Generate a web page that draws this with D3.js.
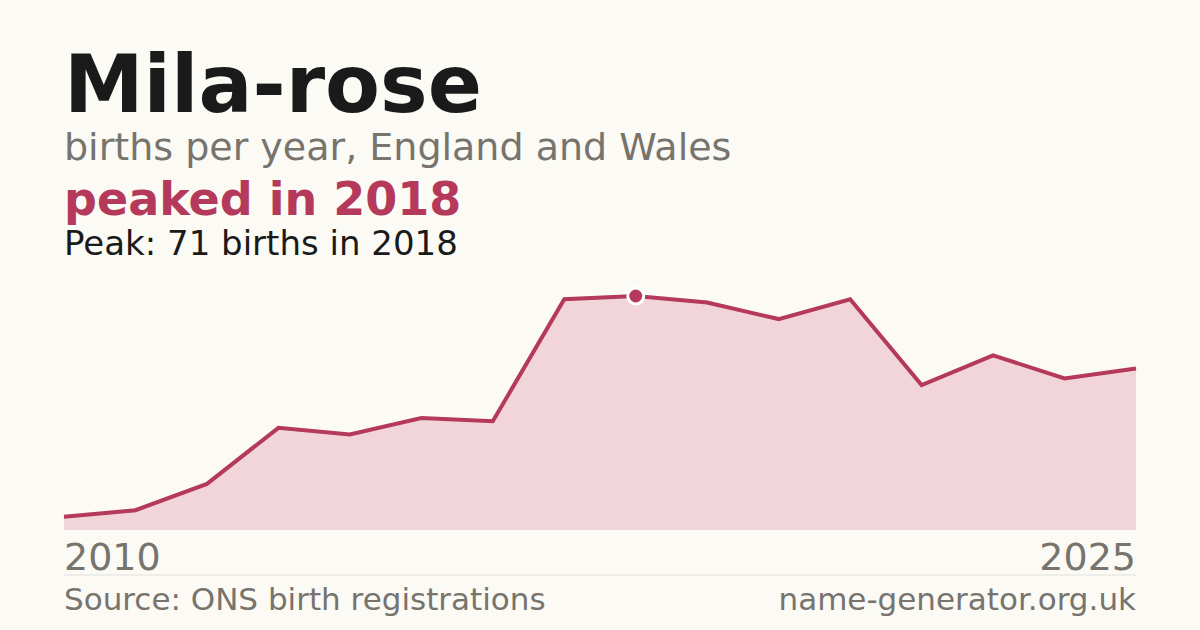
<!DOCTYPE html>
<html><head><meta charset="utf-8">
<script src="https://cdn.jsdelivr.net/npm/d3@7"></script>
<style>body{margin:0;background:#fbfaf5}svg{display:block}</style>
</head><body>
<script>
const years = [2010,2011,2012,2013,2014,2015,2016,2017,2018,2019,2020,2021,2022,2023,2024,2025];
const births = [4,6,14,31,29,34,33,70,71,69,64,70,44,53,46,49];
const peakYear = 2018, peakValue = 71;
const W=1200,H=630;
const svg=d3.select("body").append("svg").attr("width",W).attr("height",H).style("font-family","DejaVu Sans");
svg.append("rect").attr("width",W).attr("height",H).attr("fill","#fbfaf5");
const x=d3.scaleLinear().domain([2010,2025]).range([64,1136]);
const y=d3.scaleLinear().domain([0,71]).range([530,296]);
const data=years.map((yr,i)=>({yr,v:births[i]}));
svg.append("path").datum(data).attr("fill","#f2d5db")
 .attr("d",d3.area().x(d=>x(d.yr)).y0(y(0)).y1(d=>y(d.v)));
svg.append("path").datum(data).attr("fill","none").attr("stroke","#b5395a").attr("stroke-width",4)
 .attr("d",d3.line().x(d=>x(d.yr)).y(d=>y(d.v)));
svg.append("circle").attr("cx",x(peakYear)).attr("cy",y(peakValue)).attr("r",8).attr("fill","#b5395a").attr("stroke","#fff").attr("stroke-width",3);
const t=(txt,xx,yy,size,fill,weight,anchor)=>svg.append("text").text(txt).attr("x",xx).attr("y",yy).attr("font-size",size).attr("fill",fill).attr("font-weight",weight||"normal").attr("text-anchor",anchor||"start");
t("Mila-rose",64,112,80,"#1a1a1a","bold");
t("births per year, England and Wales",64,160,38,"#77736d");
t("peaked in 2018",64,215,46,"#b5395a","bold");
t("Peak: 71 births in 2018",64,255,34,"#1a1a1a");
t(String(years[0]),64,570,38,"#77736d");
t(String(years[years.length-1]),1136,570,38,"#77736d","normal","end");
svg.append("line").attr("x1",64).attr("x2",1136).attr("y1",575).attr("y2",575).attr("stroke","#e2e0da");
t("Source: ONS birth registrations",64,610,31,"#77736d");
t("name-generator.org.uk",1136,610,31,"#77736d","normal","end");
</script>
</body></html>
